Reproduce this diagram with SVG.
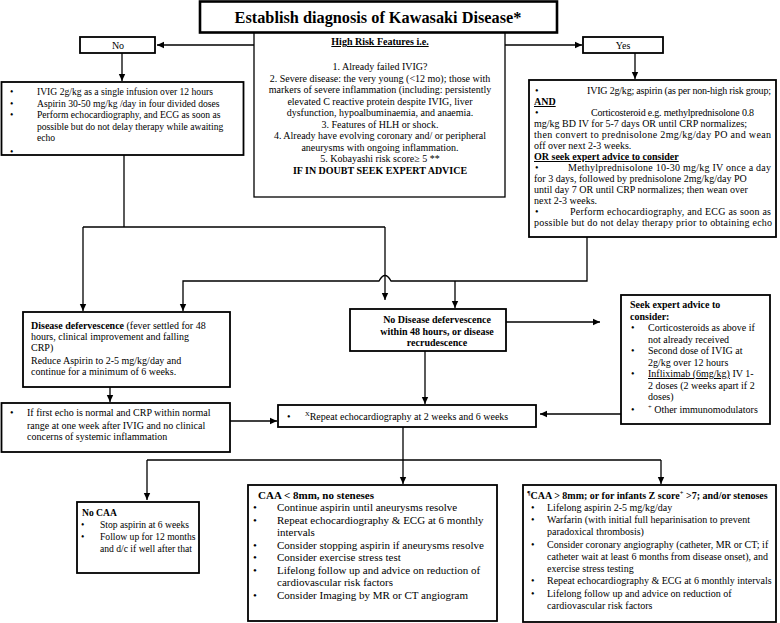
<svg xmlns="http://www.w3.org/2000/svg" width="780" height="623" viewBox="0 0 780 623">
<defs>
<style>
text{font-family:"Liberation Serif","Times New Roman",serif;font-size:10px;fill:#000}
.b{font-weight:bold}
.u{text-decoration:underline}
.m{text-anchor:middle}
.s{font-size:9.6px}
.l{font-size:11px}
.box{fill:#fff;stroke:#000;stroke-width:1.8}
.thin{fill:#fff;stroke:#000;stroke-width:1.3}
.ttl{fill:#fff;stroke:#000;stroke-width:2.6}
.c{fill:none;stroke:#000;stroke-width:1.3}
.sup{font-size:6.5px}
</style>
<marker id="ah" markerWidth="8" markerHeight="8" refX="7" refY="4" orient="auto" markerUnits="userSpaceOnUse">
<path d="M0,0.8 L7,4 L0,7.2 Z" fill="#000"/>
</marker>
</defs>
<rect width="780" height="623" fill="#fff"/>

<g id="connectors">
<path class="c" d="M254,45 H157" marker-end="url(#ah)"/>
<path class="c" d="M505,45 H582" marker-end="url(#ah)"/>
<path class="c" d="M122,53 V81" marker-end="url(#ah)"/>
<path class="c" d="M635,53 V79" marker-end="url(#ah)"/>
<path class="c" d="M124,155 V227"/>
<path class="c" d="M83,227 H385"/>
<path class="c" d="M83,227 V311" marker-end="url(#ah)"/>
<path class="c" d="M385,227 V300" marker-end="url(#ah)"/>
<path class="c" d="M587,237 V281 H391 Q385,270 379,281 H183 V311" marker-end="url(#ah)"/>
<path class="c" d="M455,281 V308" marker-end="url(#ah)"/>
<path class="c" d="M506,322 H600" marker-end="url(#ah)"/>
<path class="c" d="M621,414 H540" marker-end="url(#ah)"/>
<path class="c" d="M230,421 H277" marker-end="url(#ah)"/>
<path class="c" d="M110,387 V402" marker-end="url(#ah)"/>
<path class="c" d="M425,351 V404" marker-end="url(#ah)"/>
<path class="c" d="M403,427 V484" marker-end="url(#ah)"/>
<path class="c" d="M147,460 H661"/>
<path class="c" d="M147,460 V500" marker-end="url(#ah)"/>
<path class="c" d="M661,460 V484" marker-end="url(#ah)"/>
</g>

<g id="highrisk">
<rect class="thin" x="254" y="32" width="251" height="165"/>
<text class="b u m" x="380" y="45">High Risk Features i.e.</text>
<text class="m" x="380" y="70">1. Already failed IVIG?</text>
<text class="m" x="380" y="81.5">2. Severe disease: the very young (&lt;12 mo); those with</text>
<text class="m" x="380" y="93">markers of severe inflammation (including: persistently</text>
<text class="m" x="380" y="104.5">elevated C reactive protein despite IVIG, liver</text>
<text class="m" x="380" y="116">dysfunction, hypoalbuminaemia, and anaemia.</text>
<text class="m" x="380" y="127.5">3. Features of HLH or shock.</text>
<text class="m" x="380" y="139">4. Already have evolving coronary and/ or peripheral</text>
<text class="m" x="380" y="150.5">aneurysms with ongoing inflammation.</text>
<text class="m" x="380" y="162">5. Kobayashi risk score≥ 5 **</text>
<text class="b m" x="380" y="174">IF IN DOUBT SEEK EXPERT ADVICE</text>
</g>

<g id="title">
<rect class="ttl" x="200" y="1.5" width="357" height="31"/>
<text class="b m" x="378" y="23" style="font-size:16.3px">Establish diagnosis of Kawasaki Disease*</text>
</g>

<g id="no">
<rect class="box" x="80" y="37" width="75" height="16"/>
<text class="m" x="118" y="48.5">No</text>
</g>

<g id="yes">
<rect class="box" x="583" y="37" width="80" height="16"/>
<text class="m" x="623" y="48.5">Yes</text>
</g>

<g id="standard">
<rect class="box" x="1.5" y="82" width="242" height="73"/>
<text class="s" x="10" y="95">•</text><text class="s" x="37" y="95">IVIG 2g/kg as a single infusion over 12 hours</text>
<text class="s" x="10" y="106.5">•</text><text class="s" x="37" y="106.5">Aspirin 30-50 mg/kg /day in four divided doses</text>
<text class="s" x="10" y="118">•</text><text class="s" x="37" y="118">Perform echocardiography, and ECG as soon as</text>
<text class="s" x="37" y="129.5">possible but do not delay therapy while awaiting</text>
<text class="s" x="37" y="141">echo</text>
<text class="s" x="10" y="155">•</text>
</g>

<g id="highrisk-treatment">
<rect class="box" x="529" y="80" width="247" height="157"/>
<text x="535" y="94">•</text><text x="587" y="94" textLength="184">IVIG 2g/kg; aspirin (as per non-high risk group;</text>
<text class="b u" x="534" y="105">AND</text>
<text x="535" y="116">•</text><text x="591" y="116" textLength="163">Corticosteroid e.g. methylprednisolone 0.8</text>
<text x="534" y="127">mg/kg BD IV for 5-7 days OR until CRP normalizes;</text>
<text x="534" y="138" textLength="237">then convert to prednisolone 2mg/kg/day PO and wean</text>
<text x="534" y="149">off over next 2-3 weeks.</text>
<text class="b u" x="534" y="160">OR seek expert advice to consider</text>
<text x="535" y="171">•</text><text x="568" y="171" textLength="203">Methylprednisolone 10-30 mg/kg IV once a day</text>
<text x="534" y="182">for 3 days, followed by  prednisolone 2mg/kg/day PO</text>
<text x="534" y="193">until day 7 OR until CRP normalizes; then wean over</text>
<text x="534" y="204">next 2-3 weeks.</text>
<text x="535" y="215">•</text><text x="570" y="215" textLength="201">Perform echocardiography, and ECG as soon as</text>
<text x="534" y="226" textLength="238">possible but do not delay therapy prior to obtaining echo</text>
</g>

<g id="defervescence">
<rect class="box" x="23" y="312" width="207" height="75"/>
<text x="31" y="328.5"><tspan class="b">Disease defervescence</tspan> (fever settled for 48</text>
<text x="31" y="340">hours, clinical improvement and falling</text>
<text x="31" y="351">CRP)</text>
<text x="31" y="364">Reduce Aspirin to 2-5 mg/kg/day and</text>
<text x="31" y="375">continue for a minimum of 6 weeks.</text>
</g>

<g id="no-defervescence">
<rect class="box" x="350" y="309" width="156" height="42"/>
<text class="b m" x="437" y="323">No Disease defervescence</text>
<text class="b m" x="437" y="334.5">within 48 hours, or disease</text>
<text class="b m" x="437" y="346">recrudescence</text>
</g>

<g id="seek-advice">
<rect class="box" x="621" y="295" width="149" height="129"/>
<text class="b" x="630" y="308">Seek expert advice to</text>
<text class="b" x="630" y="319.5">consider:</text>
<text x="631" y="331">•</text><text x="648" y="331">Corticosteroids as above if</text>
<text x="648" y="342.5">not already received</text>
<text x="631" y="354">•</text><text x="648" y="354">Second dose of IVIG at</text>
<text x="648" y="365.5">2g/kg over 12 hours</text>
<text x="631" y="377">•</text><text x="648" y="377"><tspan class="u">Infliximab (6mg/kg)</tspan> IV 1-</text>
<text x="648" y="388.5">2 doses (2 weeks apart if 2</text>
<text x="648" y="400">doses)</text>
<text x="631" y="413">•</text><text x="648" y="413"><tspan class="sup" dy="-4">+</tspan><tspan dy="4"> Other immunomodulators</tspan></text>
</g>

<g id="first-echo">
<rect class="box" x="1.5" y="403" width="228.5" height="49"/>
<text x="10" y="416">•</text><text x="27" y="416">If first echo is normal and CRP within normal</text>
<text x="27" y="428.5">range at one week after IVIG and no clinical</text>
<text x="27" y="440">concerns of systemic inflammation</text>
</g>

<g id="repeat-echo">
<rect class="box" x="278" y="405" width="258" height="22"/>
<text x="287" y="420">•</text>
<text x="305" y="420"><tspan class="sup" dy="-4">X</tspan><tspan dy="4">Repeat echocardiography at 2 weeks and 6 weeks</tspan></text>
</g>

<g id="no-caa">
<rect class="box" x="77" y="502" width="122" height="71"/>
<text class="b s" x="82" y="516">No CAA</text>
<text class="s" x="81" y="528">•</text><text class="s" x="100" y="528">Stop aspirin at 6 weeks</text>
<text class="s" x="81" y="540">•</text><text class="s" x="100" y="540">Follow up for 12 months</text>
<text class="s" x="100" y="551.5">and d/c  if well after  that</text>
</g>

<g id="caa-small">
<rect class="box" x="248" y="485" width="249" height="136"/>
<text class="b l" x="258" y="499">CAA &lt; 8mm, no steneses</text>
<text class="l" x="253" y="511">•</text><text class="l" x="277" y="511">Continue aspirin until aneurysms resolve</text>
<text class="l" x="253" y="523.5">•</text><text class="l" x="277" y="523.5">Repeat echocardiography &amp; ECG at 6 monthly</text>
<text class="l" x="277" y="535.5">intervals</text>
<text class="l" x="253" y="548.5">•</text><text class="l" x="277" y="548.5">Consider stopping aspirin if aneurysms resolve</text>
<text class="l" x="253" y="561">•</text><text class="l" x="277" y="561">Consider exercise stress test</text>
<text class="l" x="253" y="573.5">•</text><text class="l" x="277" y="573.5">Lifelong follow up and advice on reduction of</text>
<text class="l" x="277" y="585.5">cardiovascular risk factors</text>
<text class="l" x="253" y="599">•</text><text class="l" x="277" y="599">Consider Imaging by MR or CT angiogram</text>
</g>

<g id="caa-large">
<rect class="box" x="523" y="485" width="253" height="137"/>
<text class="b" x="527" y="499"><tspan class="sup" dy="-4">¶</tspan><tspan dy="4">CAA &gt; 8mm; or for infants Z score</tspan><tspan class="sup" dy="-4">+</tspan><tspan dy="4"> &gt;7; and/or stenoses</tspan></text>
<text x="531" y="510.5">•</text><text x="547" y="510.5">Lifelong aspirin 2-5 mg/kg/day</text>
<text x="531" y="523">•</text><text x="547" y="523">Warfarin (with initial full heparinisation to prevent</text>
<text x="547" y="535">paradoxical thrombosis)</text>
<text x="531" y="547.5">•</text><text x="547" y="547.5">Consider coronary angiography (catheter, MR or CT; if</text>
<text x="547" y="559.5">catheter wait at least 6 months from disease onset), and</text>
<text x="547" y="571.5">exercise stress testing</text>
<text x="531" y="584">•</text><text x="547" y="584">Repeat echocardiography &amp; ECG at 6 monthly intervals</text>
<text x="531" y="596.5">•</text><text x="547" y="596.5">Lifelong follow up and advice on reduction of</text>
<text x="547" y="608.5">cardiovascular risk factors</text>
</g>
</svg>
